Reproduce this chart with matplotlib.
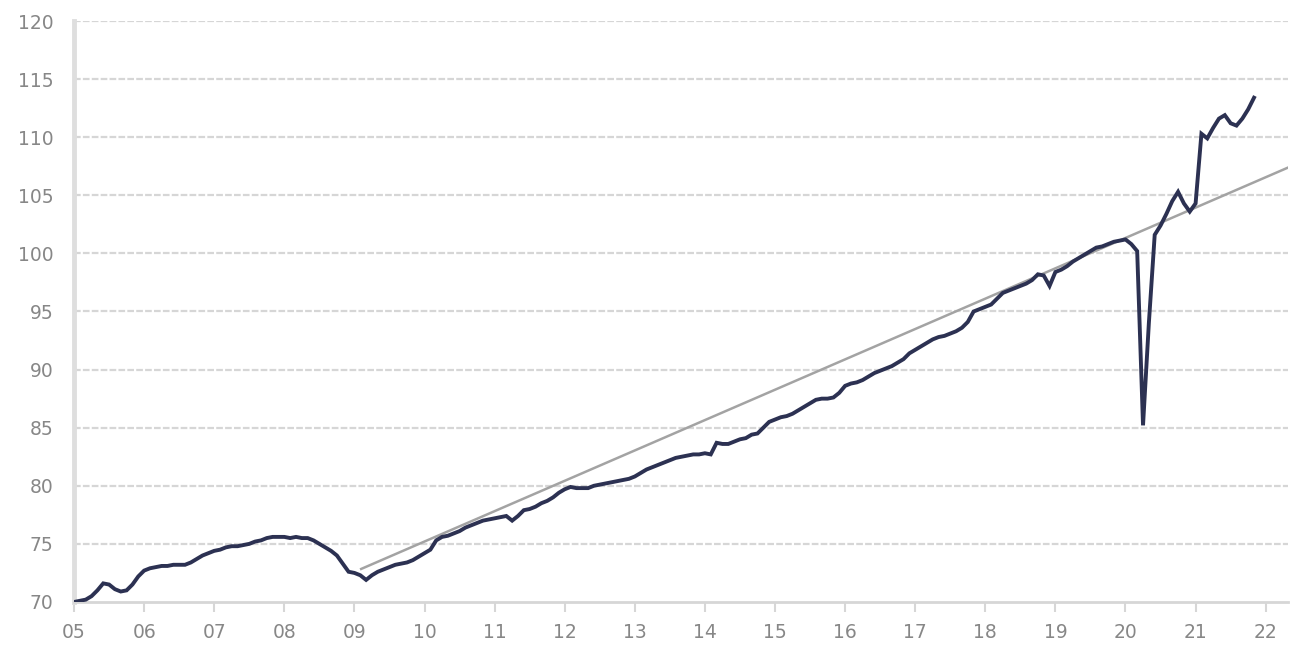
import matplotlib
matplotlib.use("Agg")
import matplotlib.pyplot as plt
import numpy as np

# Monthly index values, Jan 2005 .. Nov 2021
v2005 = [70.0, 70.1, 70.2, 70.5, 71.0, 71.6, 71.5, 71.1, 70.9, 71.0, 71.5, 72.2]
v2006 = [72.7, 72.9, 73.0, 73.1, 73.1, 73.2, 73.2, 73.2, 73.4, 73.7, 74.0, 74.2]
v2007 = [74.4, 74.5, 74.7, 74.8, 74.8, 74.9, 75.0, 75.2, 75.3, 75.5, 75.6, 75.6]
v2008 = [75.6, 75.5, 75.6, 75.5, 75.5, 75.3, 75.0, 74.7, 74.4, 74.0, 73.3, 72.6]
v2009 = [72.5, 72.3, 71.9, 72.3, 72.6, 72.8, 73.0, 73.2, 73.3, 73.4, 73.6, 73.9]
v2010 = [74.2, 74.5, 75.3, 75.6, 75.7, 75.9, 76.1, 76.4, 76.6, 76.8, 77.0, 77.1]
v2011 = [77.2, 77.3, 77.4, 77.0, 77.4, 77.9, 78.0, 78.2, 78.5, 78.7, 79.0, 79.4]
v2012 = [79.7, 79.9, 79.8, 79.8, 79.8, 80.0, 80.1, 80.2, 80.3, 80.4, 80.5, 80.6]
v2013 = [80.8, 81.1, 81.4, 81.6, 81.8, 82.0, 82.2, 82.4, 82.5, 82.6, 82.7, 82.7]
v2014 = [82.8, 82.7, 83.7, 83.6, 83.6, 83.8, 84.0, 84.1, 84.4, 84.5, 85.0, 85.5]
v2015 = [85.7, 85.9, 86.0, 86.2, 86.5, 86.8, 87.1, 87.4, 87.5, 87.5, 87.6, 88.0]
v2016 = [88.6, 88.8, 88.9, 89.1, 89.4, 89.7, 89.9, 90.1, 90.3, 90.6, 90.9, 91.4]
v2017 = [91.7, 92.0, 92.3, 92.6, 92.8, 92.9, 93.1, 93.3, 93.6, 94.1, 95.0, 95.2]
v2018 = [95.4, 95.6, 96.1, 96.6, 96.8, 97.0, 97.2, 97.4, 97.7, 98.2, 98.1, 97.2]
v2019 = [98.4, 98.6, 98.9, 99.3, 99.6, 99.9, 100.2, 100.5, 100.6, 100.8, 101.0, 101.1]
v2020 = [101.2, 100.8, 100.2, 85.2, 94.0, 101.6, 102.4, 103.4, 104.5, 105.3, 104.3, 103.6]
v2021 = [104.3, 110.3, 109.9, 110.8, 111.6, 111.9, 111.2, 111.0, 111.6, 112.4, 113.4]

series = (v2005 + v2006 + v2007 + v2008 + v2009 + v2010 + v2011 + v2012 + v2013
          + v2014 + v2015 + v2016 + v2017 + v2018 + v2019 + v2020 + v2021)
start_year = 2005

# Trend line endpoints (year, value)
trend_years = [2009.08, 2022.4]
trend_values = [72.8, 107.6]

tick_years = list(range(2005, 2023))
tick_labels = ["05", "06", "07", "08", "09", "10", "11", "12", "13", "14",
               "15", "16", "17", "18", "19", "20", "21", "22"]
y_ticks = [70, 75, 80, 85, 90, 95, 100, 105, 110, 115, 120]

x = start_year + np.arange(len(series)) / 12.0

fig = plt.figure(figsize=(12.92, 6.47), dpi=100)
ax = fig.add_axes([0.0573, 0.0696, 0.9397, 0.8979])

ax.set_xlim(2005, 2022.32)
ax.set_ylim(70, 120)

for yv in y_ticks[1:]:
    ax.axhline(yv, color="#d6d6d6", lw=1.6, ls=(0, (3, 1)), zorder=1)

ax.plot(trend_years, trend_values, color="#a3a3a3", lw=1.8, zorder=2,
        solid_capstyle="butt")
ax.plot(x, series, color="#2c3152", lw=2.8, zorder=3, solid_joinstyle="miter")

ax.set_xticks(tick_years)
ax.set_xticklabels(tick_labels)
ax.set_yticks(y_ticks)
ax.set_yticklabels([str(v) for v in y_ticks])

ax.tick_params(axis="x", length=7, width=1.5, color="#d6d6d6", pad=8,
               labelsize=13.5, labelcolor="#878787")
ax.tick_params(axis="y", length=0, pad=15, labelsize=13.5, labelcolor="#878787")

for s in ["top", "right"]:
    ax.spines[s].set_visible(False)
ax.spines["bottom"].set_color("#d6d6d6")
ax.spines["bottom"].set_linewidth(2)
ax.spines["left"].set_color("#dedede")
ax.spines["left"].set_linewidth(3.5)

fig.savefig("out.png", dpi=100)
